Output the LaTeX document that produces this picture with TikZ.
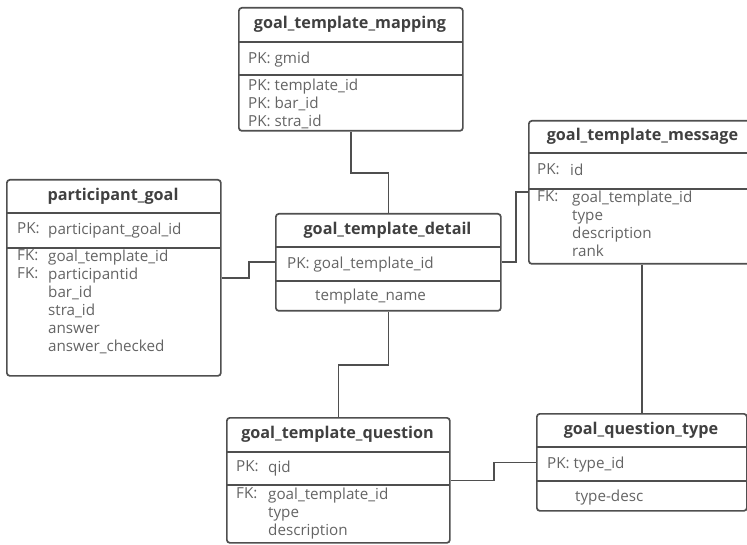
\documentclass[tikz,border=0pt]{standalone}
\usepackage{fontspec}
\setmainfont{Open Sans}
\usepackage{xcolor}
\usetikzlibrary{positioning}
\definecolor{edge}{HTML}{4F4F4F}
\definecolor{head}{HTML}{404040}
\definecolor{ink}{HTML}{646464}

\begin{document}
\begin{tikzpicture}[
  x=1pt,y=-1pt,
  tbl/.style={draw=edge,line width=1.7pt,rounded corners=3pt,anchor=north west,inner sep=0pt},
  sep/.style={draw=edge,line width=1.7pt},
  ttl/.style={font=\fontsize{16.2}{18}\selectfont\bfseries,text=head,inner sep=0pt},
  attr/.style={anchor=north west,inner sep=0pt,align=left,text=ink,font=\fontsize{15.2}{18}\selectfont},
  link/.style={draw=edge,line width=1.7pt}
]
\useasboundingbox (0,0) rectangle (747,545);

% goal_template_mapping
\node[tbl,minimum width=224pt,minimum height=123pt] (map) at (238,7) {};
\draw[sep] (238,42) -- (462,42);
\draw[sep] (238,75) -- (462,75);
\node[ttl] (map-t) at (350,24.5) {goal\_template\_mapping};
\node[attr] (map-pk) at (248,51.5) {PK: gmid};
\node[attr] (map-a) at (248,78.5) {PK: template\_id\\PK: bar\_id\\PK: stra\_id};

% goal_template_message
\node[tbl,minimum width=229pt,minimum height=143pt] (msg) at (528,120) {};
\draw[sep] (528,153) -- (757,153);
\draw[sep] (528,189) -- (757,189);
\node[ttl] (msg-t) at (642.5,136.5) {goal\_template\_message};
\node[attr] (msg-pk) at (537,163.5) {PK:};
\node[attr] (msg-id) at (570,163.5) {id};
\node[attr] (msg-fk) at (537,190.5) {FK:};
\node[attr] (msg-a) at (572,190.5) {goal\_template\_id\\type\\description\\rank};

% participant_goal
\node[tbl,minimum width=214pt,minimum height=196pt] (part) at (6,179) {};
\draw[sep] (6,213) -- (220,213);
\draw[sep] (6,248) -- (220,248);
\node[ttl] (part-t) at (113,196) {participant\_goal};
\node[attr] (part-pk) at (17,222.5) {PK:};
\node[attr] (part-id) at (48,222.5) {participant\_goal\_id};
\node[attr] (part-fk) at (17,249.5) {FK:\\FK:};
\node[attr] (part-a) at (48,249.5) {goal\_template\_id\\participantid\\bar\_id\\stra\_id\\answer\\answer\_checked};

% goal_template_detail
\node[tbl,minimum width=225pt,minimum height=97pt] (det) at (275,213) {};
\draw[sep] (275,247) -- (500,247);
\draw[sep] (275,281) -- (500,281);
\node[ttl] (det-t) at (387.5,230) {goal\_template\_detail};
\node[attr] (det-pk) at (287,256.5) {PK: goal\_template\_id};
\node[attr] (det-a) at (315,288.5) {template\_name};

% goal_template_question
\node[tbl,minimum width=223pt,minimum height=125pt] (q) at (226,417) {};
\draw[sep] (226,452) -- (449,452);
\draw[sep] (226,485) -- (449,485);
\node[ttl] (q-t) at (337.5,434.5) {goal\_template\_question};
\node[attr] (q-pk) at (236,460.5) {PK:};
\node[attr] (q-id) at (268,460.5) {qid};
\node[attr] (q-fk) at (236,487.5) {FK:};
\node[attr] (q-a) at (268,487.5) {goal\_template\_id\\type\\description};

% goal_question_type
\node[tbl,minimum width=210pt,minimum height=97pt] (qt) at (536,413) {};
\draw[sep] (536,447) -- (746,447);
\draw[sep] (536,481) -- (746,481);
\node[ttl] (qt-t) at (641,430) {goal\_question\_type};
\node[attr] (qt-pk) at (547,456.5) {PK: type\_id};
\node[attr] (qt-a) at (575,489.5) {type-desc};

% links
\draw[link] (map.south) -- ++(0,41) -| (det.north);
\draw[link] (part.east) -- ++(27,0) |- (det.west);
\draw[link] (det.east) -- ++(14,0) |- (msg.west);
\draw[link] (det.south) -- ++(0,53) -| (q.north);
\draw[link] (q.east) -- ++(43,0) |- (qt.west);
\draw[link] (qt.north) -- (qt.north |- msg.south);
\end{tikzpicture}
\end{document}
